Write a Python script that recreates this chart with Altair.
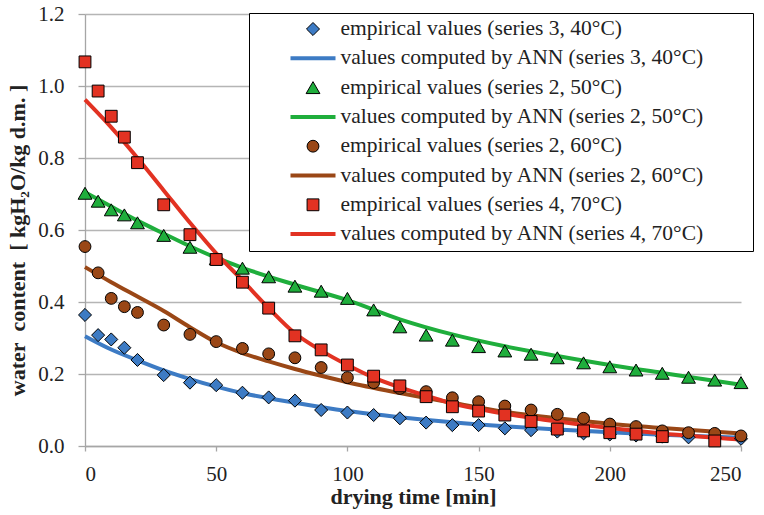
import altair as alt
import pandas as pd

# ---------------- data ----------------
labels = [
    "empirical values (series 3, 40°C)",
    "values computed by ANN (series 3, 40°C)",
    "empirical values (series 2, 50°C)",
    "values computed by ANN (series 2, 50°C)",
    "empirical values (series 2, 60°C)",
    "values computed by ANN (series 2, 60°C)",
    "empirical values (series 4, 70°C)",
    "values computed by ANN (series 4, 70°C)",
]

t_emp = [0, 5, 10, 15, 20, 30, 40, 50, 60, 70, 80, 90, 100, 110, 120, 130,
         140, 150, 160, 170, 180, 190, 200, 210, 220, 230, 240, 250]
emp_40 = [0.364, 0.308, 0.296, 0.273, 0.239, 0.197, 0.176, 0.169, 0.148, 0.135,
          0.126, 0.100, 0.093, 0.086, 0.077, 0.065, 0.058, 0.058, 0.049, 0.044,
          0.040, 0.035, 0.032, 0.029, 0.026, 0.024, 0.022, 0.020]
emp_50 = [0.702, 0.680, 0.656, 0.642, 0.620, 0.585, 0.552, 0.520, 0.494, 0.470,
          0.444, 0.430, 0.410, 0.378, 0.331, 0.308, 0.294, 0.276, 0.264, 0.255,
          0.245, 0.231, 0.220, 0.211, 0.202, 0.191, 0.183, 0.176]
emp_60 = [0.554, 0.481, 0.410, 0.387, 0.371, 0.336, 0.310, 0.290, 0.271, 0.256,
          0.245, 0.218, 0.190, 0.176, 0.160, 0.151, 0.134, 0.123, 0.111, 0.100,
          0.088, 0.077, 0.061, 0.054, 0.042, 0.037, 0.035, 0.028]
t_emp_70 = [0, 5, 10, 15, 20, 30, 40, 50, 60, 70, 80, 90, 100, 110, 120, 130,
            140, 150, 160, 170, 180, 190, 200, 210, 220, 240]
emp_70 = [1.067, 0.986, 0.916, 0.858, 0.787, 0.670, 0.587, 0.518, 0.455, 0.383,
          0.306, 0.267, 0.225, 0.194, 0.167, 0.137, 0.109, 0.097, 0.086, 0.068,
          0.047, 0.042, 0.037, 0.033, 0.026, 0.014]

t_ann_40 = [0, 10, 20, 30, 40, 50, 60, 80, 100, 120, 140, 160, 180, 200, 220, 250]
ann_40 = [0.305, 0.268, 0.238, 0.210, 0.186, 0.165, 0.147, 0.120, 0.097, 0.080,
          0.066, 0.055, 0.046, 0.038, 0.031, 0.023]
t_ann_50 = [0, 10, 20, 30, 40, 50, 60, 80, 100, 120, 140, 160, 180, 200, 220, 250]
ann_50 = [0.705, 0.665, 0.626, 0.590, 0.555, 0.523, 0.495, 0.448, 0.405, 0.352,
          0.310, 0.277, 0.250, 0.225, 0.203, 0.170]
t_ann_60 = [0, 10, 20, 30, 40, 50, 60, 70, 80, 90, 100, 120, 140, 160, 180, 200, 220, 250]
ann_60 = [0.497, 0.455, 0.415, 0.375, 0.330, 0.288, 0.258, 0.235, 0.214, 0.195,
          0.177, 0.147, 0.120, 0.095, 0.077, 0.062, 0.050, 0.035]
t_ann_70 = [0, 10, 20, 30, 40, 50, 60, 70, 80, 90, 100, 110, 120, 130, 140, 150,
            160, 180, 200, 220, 250]
ann_70 = [0.962, 0.885, 0.800, 0.710, 0.620, 0.535, 0.460, 0.383, 0.313, 0.265,
          0.225, 0.190, 0.163, 0.140, 0.118, 0.103, 0.090, 0.068, 0.050, 0.035,
          0.018]

x_ticks = [0, 50, 100, 150, 200, 250]
y_ticks = [0.0, 0.2, 0.4, 0.6, 0.8, 1.0, 1.2]

blue, green, brown, red = "#3d7bc4", "#1fae3c", "#9a4716", "#e23222"
FONT = "Liberation Serif"

# ---------------- tables ----------------
pts = pd.concat([
    pd.DataFrame({"t": t_emp, "v": emp_40, "label": labels[0]}),
    pd.DataFrame({"t": t_emp, "v": emp_50, "label": labels[2]}),
    pd.DataFrame({"t": t_emp, "v": emp_60, "label": labels[4]}),
    pd.DataFrame({"t": t_emp_70, "v": emp_70, "label": labels[6]}),
], ignore_index=True)
pts["order"] = pts.index

lines = pd.concat([
    pd.DataFrame({"t": t_ann_40, "v": ann_40, "label": labels[1]}),
    pd.DataFrame({"t": t_ann_50, "v": ann_50, "label": labels[3]}),
    pd.DataFrame({"t": t_ann_60, "v": ann_60, "label": labels[5]}),
    pd.DataFrame({"t": t_ann_70, "v": ann_70, "label": labels[7]}),
], ignore_index=True)

fill_range = [blue, "transparent", green, "transparent", brown, "transparent", red, "transparent"]
stroke_range = ["black", blue, "black", green, "black", brown, "black", red]
shape_range = ["diamond", "stroke", "triangle-up", "stroke", "circle", "stroke", "square", "stroke"]
size_range = [170, 2025, 190, 2025, 140, 2025, 140, 2025]
sw_range = [1, 4, 1, 4, 1, 4, 1, 4]

pad_tail = "\u00a0" * 8 + "\u200b"
leg = alt.Legend(
    title=None, orient="none", legendX=164, legendY=-1, columns=1,
    clipHeight=22, rowPadding=7.3, padding=5,
    symbolOffset=34.5, labelOffset=3, labelLimit=700,
    labelFont=FONT, labelFontSize=21.5,
    labelExpr="datum.label + '" + pad_tail + "'",
)

xenc = alt.X("t:Q", scale=alt.Scale(domain=[0, 250], nice=False),
             axis=alt.Axis(values=x_ticks, grid=False, tickSize=5, labelPadding=12,
                           labelFont=FONT, titleFont=FONT,
                           title="drying time [min]", titleY=57,
                           titleBaseline="alphabetic"))
yenc = alt.Y("v:Q", scale=alt.Scale(domain=[0, 1.2], nice=False),
             axis=alt.Axis(values=y_ticks, format=".1f", grid=True, tickSize=7,
                           labelPadding=14, labelFont=FONT, titleFont=FONT,
                           title="water\u00a0\u00a0content\u00a0\u00a0[ kgH\u2082O/kg d.m. ]",
                           titleAngle=270, titleX=-68, titleY=226,
                           titleAlign="center", titleBaseline="middle"))

stroke_enc = alt.Stroke("label:N", scale=alt.Scale(domain=labels, range=stroke_range), legend=leg)
sw_enc = alt.StrokeWidth("label:N", scale=alt.Scale(type="ordinal", domain=labels, range=sw_range), legend=leg)

line_layer = alt.Chart(lines).mark_line(interpolate="monotone").encode(
    x=xenc, y=yenc, stroke=stroke_enc, strokeWidth=sw_enc,
)

point_layer = alt.Chart(pts).mark_point(filled=True, opacity=1).encode(
    x=xenc, y=yenc,
    fill=alt.Fill("label:N", scale=alt.Scale(domain=labels, range=fill_range), legend=leg),
    stroke=stroke_enc,
    shape=alt.Shape("label:N", scale=alt.Scale(domain=labels, range=shape_range), legend=leg),
    size=alt.Size("label:N", scale=alt.Scale(type="ordinal", domain=labels, range=size_range), legend=leg),
    strokeWidth=sw_enc,
    order=alt.Order("order:Q"),
)

chart = alt.layer(line_layer, point_layer).properties(
    width=656, height=432,
    autosize=alt.AutoSizeParams(type="none"),
    padding={"left": 85, "top": 14, "right": 23, "bottom": 69},
    background="white",
).configure(font=FONT).configure_view(stroke=None).configure_axis(
    labelFont=FONT, labelFontSize=21, labelColor="#222222",
    titleFont=FONT, titleFontSize=22, titleFontWeight="bold",
    titleColor="#222222",
    domainColor="#a6a6a6", tickColor="#a6a6a6", gridColor="#b5b5b5",
    domainWidth=1.3, tickWidth=1.3, gridWidth=1.3,
).configure_legend(
    labelFont=FONT, labelFontSize=21.5, labelColor="#222222",
    fillColor="white", strokeColor="black",
)

chart.save("out.html", embed_options={"renderer": "svg", "actions": False})
